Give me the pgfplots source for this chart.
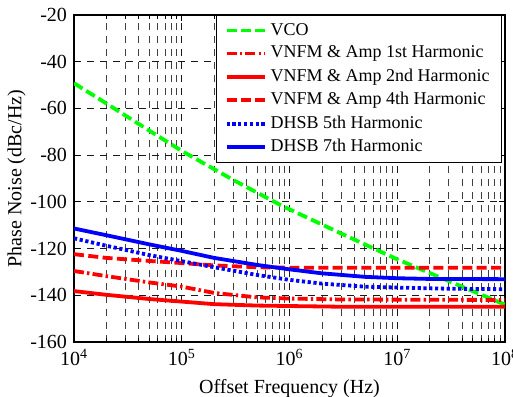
\documentclass[border=0pt]{standalone}
\usepackage{pgfplots}
\pgfplotsset{compat=1.18}
\usepackage{fontspec}
\setmainfont{Liberation Serif}
\begin{document}
\begin{tikzpicture}
\begin{axis}[
  scale only axis,
  width=215.5pt, height=163.5pt,
  xmode=log,
  xmin=1e4, xmax=1e8,
  ymin=-160, ymax=-20,
  xtick={1e4,1e5,1e6,1e7,1e8},
  xticklabels={10\textsuperscript{4},10\textsuperscript{5},10\textsuperscript{6},10\textsuperscript{7},10\textsuperscript{8}},
  ytick={-160,-140,-120,-100,-80,-60,-40,-20},
  yticklabels={-160,-140,-120,-100,-80,-60,-40,-20},
  ticklabel style={font=\fontsize{10}{12}\selectfont},
  label style={font=\fontsize{10}{12}\selectfont},
  xlabel={Offset Frequency (Hz)},
  ylabel={Phase Noise (dBc/Hz)},
  ylabel shift=-4.5pt,
  tick align=inside,
  major tick length=3pt, minor tick length=1.8pt,
  grid=both,
  major grid style={black!90, line width=0.4pt, dash pattern=on 3.5pt off 3pt},
  minor grid style={black!75, line width=0.4pt, dash pattern=on 3.5pt off 3pt},
  axis line style={black, line width=0.6pt},
  tick style={black, line width=0.4pt},
  legend cell align=left,
  legend style={at={(rel axis cs:1,1)}, xshift=-1.5pt, anchor=north east,
    draw=black, fill=white, line width=0.5pt, font=\fontsize{9}{10.5}\selectfont,
    inner xsep=4pt, inner ysep=1.8pt, row sep=0pt},
  legend image code/.code={\draw[#1] (0pt,0pt) -- (19pt,0pt);},
]
\coordinate (SW) at (rel axis cs:0,0);
\coordinate (NE) at (rel axis cs:1,1);
\addplot[green, line width=1.9pt, dash pattern=on 5pt off 2.2pt] coordinates {
(1e4,-49.2) (2e4,-57.9) (5e4,-69.5) (1e5,-78.2) (3e5,-90.6) (8.2e5,-101.3) (1e6,-103.2) (3e6,-113.5) (1e7,-124.6) (3e7,-133.9) (1e8,-144.0)};
\addlegendentry{VCO}
\addplot[red, line width=1.9pt, dash pattern=on 5pt off 1.6pt on 1.2pt off 1.6pt] coordinates {
(1e4,-129.6) (2e4,-131.8) (5e4,-134.5) (1e5,-136.3) (2e5,-139.0) (5e5,-140.9) (1e6,-141.4) (3e6,-141.8) (1e8,-142.0)};
\addlegendentry{VNFM \& Amp 1st Harmonic}
\addplot[red, line width=1.9pt] coordinates {
(1e4,-138.2) (2e4,-139.8) (5e4,-141.6) (1e5,-142.7) (2e5,-143.8) (5e5,-144.4) (1e6,-144.6) (3e6,-144.9) (1e8,-144.9)};
\addlegendentry{VNFM \& Amp 2nd Harmonic}
\addplot[red, line width=1.9pt, dash pattern=on 5pt off 2.2pt] coordinates {
(1e4,-122.4) (2e4,-124.0) (5e4,-125.3) (1e5,-126.2) (2e5,-127.2) (5e5,-128.0) (1e6,-128.2) (1e8,-128.2)};
\addlegendentry{VNFM \& Amp 4th Harmonic}
\addplot[blue, line width=1.9pt, dash pattern=on 1.6pt off 1.3pt] coordinates {
(1e4,-115.6) (2e4,-118.8) (5e4,-122.8) (1e5,-125.4) (2e5,-128.0) (5e5,-131.3) (1e6,-133.4) (2e6,-135.0) (5e6,-136.3) (1e7,-136.7) (3e7,-137.2) (1e8,-137.4)};
\addlegendentry{DHSB 5th Harmonic}
\addplot[blue, line width=1.9pt] coordinates {
(1e4,-111.4) (2e4,-114.3) (5e4,-118.2) (1e5,-121.0) (2e5,-124.0) (5e5,-127.0) (1e6,-128.9) (2e6,-130.6) (5e6,-132.1) (1e7,-132.7) (2e7,-133.0) (1e8,-133.1)};
\addlegendentry{DHSB 7th Harmonic}
\end{axis}
\pgfresetboundingbox
\path[use as bounding box] ([xshift=-37pt,yshift=-27pt]SW) rectangle ([xshift=4pt,yshift=7.5pt]NE);
\end{tikzpicture}
\end{document}
